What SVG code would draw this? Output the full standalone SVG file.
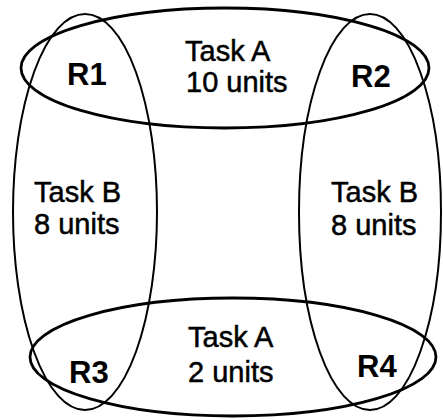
<svg xmlns="http://www.w3.org/2000/svg" width="443" height="420" viewBox="0 0 443 420">
  <style>
    .ring { fill: none; stroke: #000; }
    .wide { stroke-width: 2.8; }
    .tall { stroke-width: 2; }
    .lbl { font-family: "Liberation Sans", Arial, sans-serif; font-size: 29px; fill: #000; stroke: #000; stroke-width: 0.5; }
    .res { font-family: "Liberation Sans", Arial, sans-serif; font-size: 31px; font-weight: bold; fill: #000; }
  </style>
  <rect width="443" height="420" fill="#fff"/>

  <!-- Task B, left side -->
  <g id="taskB-left">
    <ellipse class="ring tall" cx="85" cy="212" rx="72" ry="198"/>
    <text class="lbl" x="34" y="202">Task B</text>
    <text class="lbl" x="34" y="234">8 units</text>
  </g>

  <!-- Task B, right side -->
  <g id="taskB-right">
    <ellipse class="ring tall" cx="370" cy="212" rx="71" ry="198"/>
    <text class="lbl" x="331" y="202">Task B</text>
    <text class="lbl" x="331" y="235">8 units</text>
  </g>

  <!-- Task A, top -->
  <g id="taskA-top">
    <ellipse class="ring wide" cx="225" cy="68" rx="204" ry="60"/>
    <text class="lbl" x="185" y="61">Task A</text>
    <text class="lbl" x="186" y="92">10 units</text>
  </g>

  <!-- Task A, bottom -->
  <g id="taskA-bottom">
    <ellipse class="ring wide" cx="233" cy="357" rx="203" ry="59"/>
    <text class="lbl" x="188" y="347">Task A</text>
    <text class="lbl" x="188" y="382">2 units</text>
  </g>

  <!-- resources at the overlaps -->
  <g id="R1"><text class="res" x="67" y="85">R1</text></g>
  <g id="R2"><text class="res" x="351" y="87">R2</text></g>
  <g id="R3"><text class="res" x="69" y="383">R3</text></g>
  <g id="R4"><text class="res" x="357" y="377">R4</text></g>
</svg>
